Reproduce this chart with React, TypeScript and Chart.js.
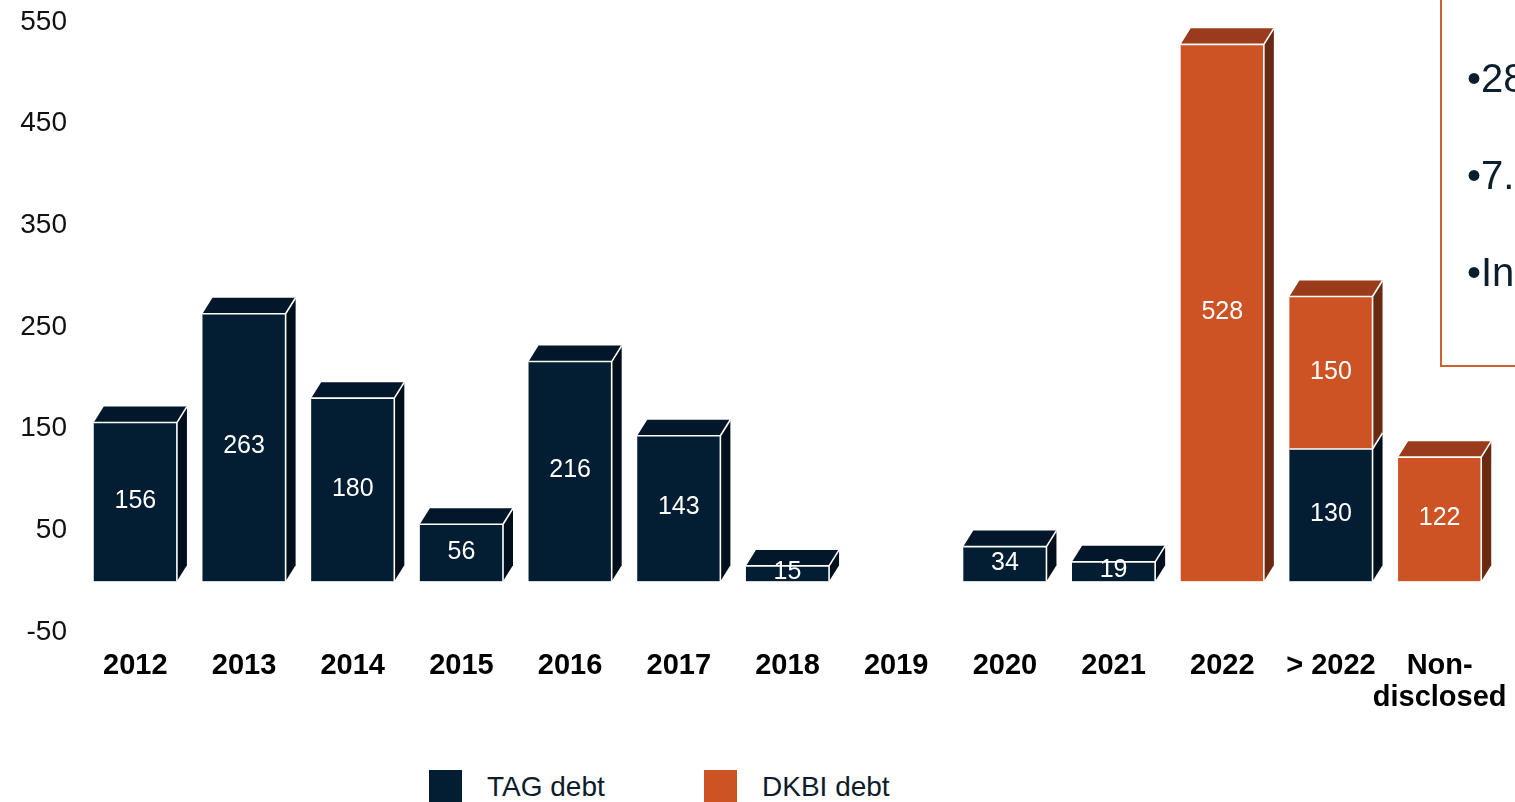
import { useEffect, useRef } from 'react';
import { Chart, registerables } from 'chart.js';

Chart.register(...registerables);

const categories: (string | string[])[] = ['2012', '2013', '2014', '2015', '2016', '2017', '2018', '2019', '2020', '2021', '2022', '> 2022', ['Non-', 'disclosed']];
const tagDebt: (number | null)[] = [156, 263, 180, 56, 216, 143, 15, null, 34, 19, null, 130, null];
const dkbiDebt: (number | null)[] = [null, null, null, null, null, null, null, null, null, null, 528, 150, 122];
const yTickValues = [-50, 50, 150, 250, 350, 450, 550];
const seriesNames = ['TAG debt', 'DKBI debt'];
const boxLines = ['•28', '•7.', '•In'];

const FONT = "'Liberation Sans', Arial, Helvetica, sans-serif";
const faces = [
  { front: '#031D33', top: '#02172A', side: '#010F1C' },
  { front: '#CD5224', top: '#9A3C1B', side: '#6A2912' },
];
const DX = 10;
const DY = -16;

const bar3d = {
  id: 'bar3d',
  afterDatasetsDraw(chart: any) {
    const ctx = chart.ctx as CanvasRenderingContext2D;
    const items: any[] = [];
    chart.data.datasets.forEach((ds: any, i: number) => {
      const meta = chart.getDatasetMeta(i);
      const c = faces[i];
      meta.data.forEach((el: any, j: number) => {
        const v = ds.data[j];
        if (v === null || v === undefined || v === 0) return;
        const { x, y, base, width } = el.getProps(['x', 'y', 'base', 'width'], true);
        const l = x - width / 2;
        const r = x + width / 2;
        const t = Math.min(y, base);
        const b = Math.max(y, base);
        ctx.save();
        ctx.fillStyle = c.front;
        ctx.fillRect(l, t, r - l, b - t);
        ctx.fillStyle = c.top;
        ctx.beginPath();
        ctx.moveTo(l, t);
        ctx.lineTo(l + DX, t + DY);
        ctx.lineTo(r + DX, t + DY);
        ctx.lineTo(r, t);
        ctx.closePath();
        ctx.fill();
        ctx.fillStyle = c.side;
        ctx.beginPath();
        ctx.moveTo(r, t);
        ctx.lineTo(r + DX, t + DY);
        ctx.lineTo(r + DX, b + DY);
        ctx.lineTo(r, b);
        ctx.closePath();
        ctx.fill();
        ctx.restore();
        items.push({ l, r, t, b, x, v });
      });
    });
    ctx.save();
    ctx.strokeStyle = '#FFFFFF';
    ctx.lineWidth = 1.6;
    items.forEach((it) => {
      ctx.beginPath();
      ctx.moveTo(it.l, it.t);
      ctx.lineTo(it.r, it.t);
      ctx.lineTo(it.r, it.b);
      ctx.moveTo(it.r, it.t);
      ctx.lineTo(it.r + DX, it.t + DY);
      ctx.stroke();
    });
    ctx.fillStyle = '#FFFFFF';
    ctx.font = `25px ${FONT}`;
    ctx.textAlign = 'center';
    ctx.textBaseline = 'middle';
    items.forEach((it) => {
      ctx.fillText(String(it.v), it.x, (it.t + it.b) / 2 - 1);
    });
    ctx.restore();
  },
};

function ChartCanvas() {
  const ref = useRef<HTMLCanvasElement | null>(null);
  useEffect(() => {
    if (!ref.current) return;
    const chart = new Chart(ref.current, {
      type: 'bar',
      data: {
        labels: categories as any,
        datasets: [
          { label: seriesNames[0], data: tagDebt, backgroundColor: 'rgba(0,0,0,0)', borderWidth: 0 },
          { label: seriesNames[1], data: dkbiDebt, backgroundColor: 'rgba(0,0,0,0)', borderWidth: 0 },
        ],
      },
      options: {
        animation: false,
        responsive: true,
        maintainAspectRatio: false,
        datasets: { bar: { categoryPercentage: 1, barPercentage: 0.765 } },
        layout: { padding: { top: 22, right: 21, left: 0, bottom: 0 } },
        plugins: { legend: { display: false }, tooltip: { enabled: false } },
        scales: {
          x: {
            stacked: true,
            grid: { display: false, drawTicks: false },
            border: { display: false },
            ticks: {
              color: '#000000',
              padding: 18,
              maxRotation: 0,
              autoSkip: false,
              font: { family: FONT, size: 29, weight: 'bold', lineHeight: 1.1 },
            },
            afterFit(scale: any) {
              scale.height = 113;
              scale.paddingLeft = 0;
              scale.paddingRight = 0;
            },
          },
          y: {
            stacked: true,
            min: -50,
            max: 550,
            grid: { display: false, drawTicks: false },
            border: { display: false },
            afterBuildTicks(scale: any) {
              scale.ticks = yTickValues.map((v) => ({ value: v }));
            },
            ticks: {
              color: '#111111',
              padding: 14,
              font: { family: FONT, size: 28 },
            },
            afterFit(scale: any) {
              scale.width = 81;
              scale.paddingTop = 0;
              scale.paddingBottom = 0;
            },
          },
        },
      } as any,
      plugins: [bar3d],
    });
    return () => chart.destroy();
  }, []);
  return <canvas ref={ref} />;
}

export default function App() {
  const legendColors = [faces[0].front, faces[1].front];
  const legendX = [429, 704];
  return (
    <div style={{ position: 'fixed', left: 0, top: 0, width: 1515, height: 802, overflow: 'hidden', background: '#FFFFFF', fontFamily: FONT }}>
      <div style={{ position: 'absolute', left: 0, top: 0, width: 1515, height: 745 }}>
        <ChartCanvas />
      </div>
      <div style={{ position: 'absolute', left: 1440, top: -10, width: 300, height: 377, border: '2px solid #D0602F', boxSizing: 'border-box' }} />
      {boxLines.map((t, i) => (
        <div key={i} style={{ position: 'absolute', left: 1467, top: 58 + i * 97, fontSize: 40, lineHeight: '40px', color: '#0B1E2E', whiteSpace: 'nowrap' }}>{t}</div>
      ))}
      {seriesNames.map((n, i) => (
        <div key={n}>
          <div style={{ position: 'absolute', left: legendX[i], top: 770, width: 33, height: 33, background: legendColors[i] }} />
          <div style={{ position: 'absolute', left: legendX[i] + 58, top: 770, fontSize: 28, lineHeight: '33px', color: '#0D1B2A', whiteSpace: 'nowrap' }}>{n}</div>
        </div>
      ))}
    </div>
  );
}
